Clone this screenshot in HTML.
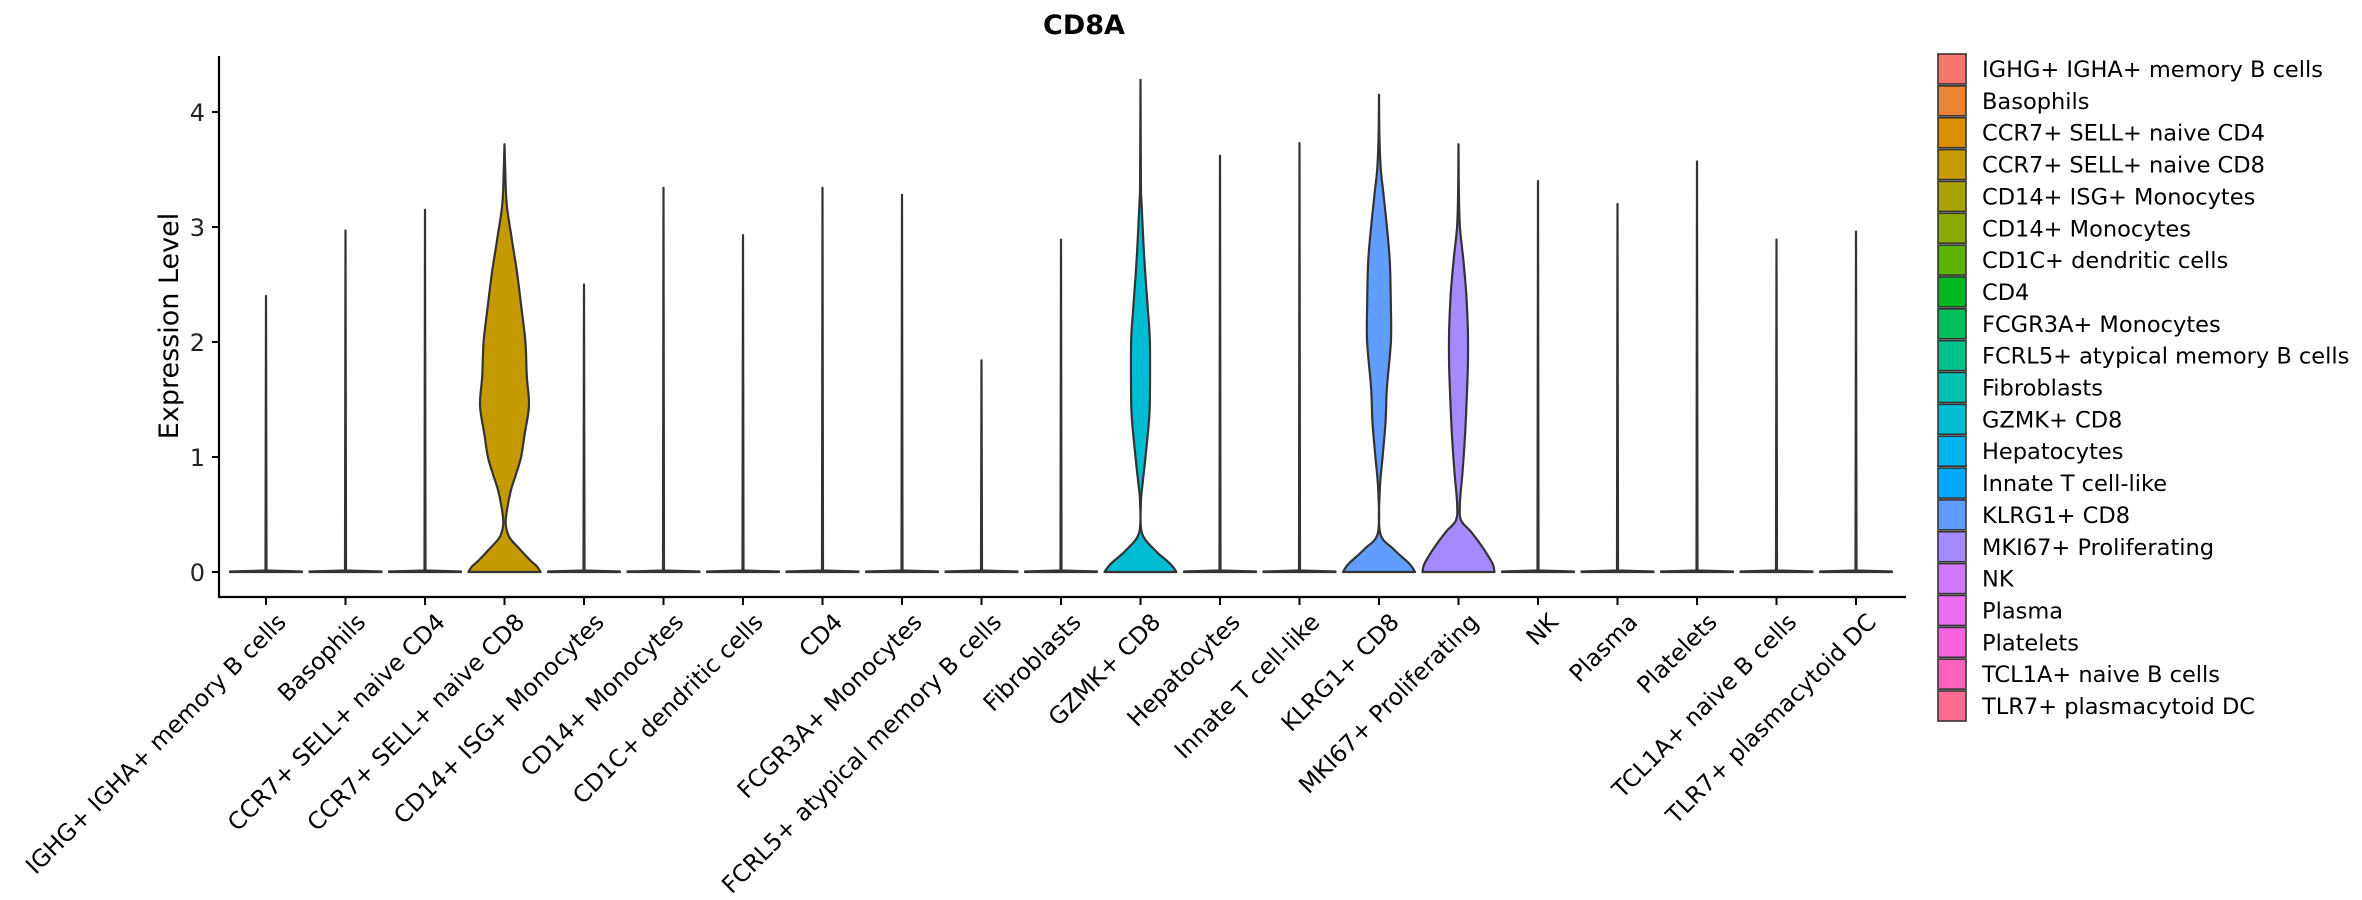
<!DOCTYPE html>
<html><head><meta charset="utf-8"><style>
html,body{margin:0;padding:0;background:#fff;}
svg{display:block;font-family:"DejaVu Sans","Liberation Sans",sans-serif;}
</style></head><body>
<svg id="chart" width="2362" height="900" viewBox="0 0 2362 900" xmlns="http://www.w3.org/2000/svg">
<text x="1084" y="34" font-size="27" font-weight="bold" text-anchor="middle" fill="#000">CD8A</text>
<text transform="translate(178,326) rotate(-90)" font-size="27" text-anchor="middle" fill="#000">Expression Level</text>
<g id="plot"></g>
<g id="legend"></g>
</svg>
<script>
const categories = ["IGHG+ IGHA+ memory B cells","Basophils","CCR7+ SELL+ naive CD4","CCR7+ SELL+ naive CD8","CD14+ ISG+ Monocytes","CD14+ Monocytes","CD1C+ dendritic cells","CD4","FCGR3A+ Monocytes","FCRL5+ atypical memory B cells","Fibroblasts","GZMK+ CD8","Hepatocytes","Innate T cell-like","KLRG1+ CD8","MKI67+ Proliferating","NK","Plasma","Platelets","TCL1A+ naive B cells","TLR7+ plasmacytoid DC"];
const colors = ["#F8766D","#EB8335","#DA8F00","#C49A00","#AAA200","#8AAA00","#5BB300","#00B81F","#00BD5C","#00C08B","#00C0B2","#00BDD4","#00B4EF","#00A8FF","#619CFF","#A58AFF","#D078FF","#EB6FF0","#F863DF","#FF62BC","#FF6C91"];
const maxValues = [2.4,2.97,3.15,3.72,2.5,3.34,2.93,3.34,3.28,1.84,2.89,4.28,3.62,3.73,4.15,3.72,3.4,3.2,3.57,2.89,2.96];
// density profiles: value levels and relative half-widths
const ccr7Levels = [0,0.05,0.1,0.2,0.3,0.4,0.5,0.7,0.85,1.0,1.2,1.45,1.7,2.0,2.3,2.6,2.9,3.2,3.5,3.72];
const ccr7Widths = [1,0.9,0.72,0.42,0.14,0.04,0.05,0.17,0.32,0.46,0.56,0.68,0.62,0.58,0.47,0.35,0.2,0.06,0.02,0];
const gzmkLevels = [0,0.07,0.19,0.34,0.6,0.8,1.0,1.3,1.5,2.0,2.3,2.7,3.2,3.4,4.28];
const gzmkWidths = [1,0.83,0.4,0.04,0.01,0.07,0.14,0.23,0.26,0.26,0.2,0.11,0.03,0.01,0];
const klrgLevels = [0,0.07,0.2,0.34,0.7,1.0,1.3,1.6,2.0,2.3,2.7,3.0,3.3,3.5,3.8,4.15];
const klrgWidths = [1,0.85,0.4,0.03,0.02,0.1,0.18,0.22,0.33,0.33,0.3,0.22,0.12,0.05,0.01,0];
const mkiLevels = [0,0.07,0.2,0.35,0.45,0.6,0.9,1.3,1.8,2.1,2.4,2.7,3.0,3.3,3.72];
const mkiWidths = [1,0.95,0.7,0.35,0.07,0.04,0.12,0.2,0.26,0.26,0.22,0.14,0.04,0.01,0];
const profiles = {3:[ccr7Levels,ccr7Widths],11:[gzmkLevels,gzmkWidths],14:[klrgLevels,klrgWidths],15:[mkiLevels,mkiWidths]};
const yTicks = [0,1,2,3,4];

const NS="http://www.w3.org/2000/svg";
const plot=document.getElementById('plot'), legend=document.getElementById('legend');
const X0=266, DX=79.5, HW=36;
const xScale=i=>X0+i*DX;
const yScale=v=>572-v*115;
function mk(tag,attrs,parent){const e=document.createElementNS(NS,tag);for(const k in attrs)e.setAttribute(k,attrs[k]);parent.appendChild(e);return e;}
function smooth(pts){
  let d='M'+pts[0][0].toFixed(1)+','+pts[0][1].toFixed(1);
  for(let i=0;i<pts.length-1;i++){
    const p0=pts[Math.max(i-1,0)],p1=pts[i],p2=pts[i+1],p3=pts[Math.min(i+2,pts.length-1)];
    const c1=[p1[0]+(p2[0]-p0[0])/6,p1[1]+(p2[1]-p0[1])/6];
    const c2=[p2[0]-(p3[0]-p1[0])/6,p2[1]-(p3[1]-p1[1])/6];
    d+=` C${c1[0].toFixed(1)},${c1[1].toFixed(1)} ${c2[0].toFixed(1)},${c2[1].toFixed(1)} ${p2[0].toFixed(1)},${p2[1].toFixed(1)}`;
  }
  return d;
}

let ax=mk('line',{x1:219,y1:56,x2:219,y2:597,stroke:'#000','stroke-width':2.2},plot);


let bx=mk('line',{x1:218,y1:597,x2:1906,y2:597,stroke:'#000','stroke-width':2.2},plot);


yTicks.forEach(t=>{
  const tk=mk('line',{x1:212,y1:yScale(t),x2:219,y2:yScale(t),stroke:'#000','stroke-width':2},plot);
  
  
  const tl=mk('text',{x:205,y:yScale(t)+9,'font-size':24,'text-anchor':'end',fill:'#222'},plot);
  
  
  tl.textContent=t;
});

categories.forEach((c,i)=>{
  const cx=xScale(i);
  let d;
  if(profiles[i]){
    const [lv,wd]=profiles[i];
    const right=lv.map((v,k)=>[cx+wd[k]*HW,yScale(v)]);
    const left=lv.map((v,k)=>[cx-wd[k]*HW,yScale(v)]).reverse();
    d=smooth(right)+' L'+smooth(left).slice(1)+' Z';
  } else {
    const m=maxValues[i], y0=yScale(0);
    d=`M${cx-HW},${y0} L${cx+HW},${y0} L${cx+HW},${y0-0.5} L${cx+0.5},${y0-1.5} L${cx},${yScale(m)} L${cx-0.5},${y0-1.5} L${cx-HW},${y0-0.5} Z`;
  }
  const p=mk('path',{d:d,fill:colors[i],stroke:'#333','stroke-width':2.2,'stroke-linejoin':'round'},plot);
  
  
  if(profiles[i]){
    const lv=profiles[i][0];
    const ln=mk('line',{x1:cx,y1:yScale(maxValues[i]),x2:cx,y2:yScale(lv[lv.length-1]),stroke:'#333','stroke-width':2.2},plot);
    
    
  }
  const tk=mk('line',{x1:cx,y1:597,x2:cx,y2:605,stroke:'#000','stroke-width':2},plot);
  
  
  const tl=mk('text',{transform:`translate(${cx+9},${611}) rotate(-45)`,'font-size':23.5,'text-anchor':'end',fill:'#000',dy:'0.75em'},plot);
  
  
  tl.textContent=c;

  const ly=54+i*31.85;
  const key=mk('rect',{x:1938,y:ly,width:28,height:30,fill:colors[i],stroke:'#333','stroke-width':1.6},legend);
  
  
  const lt=mk('text',{x:1982,y:ly+23,'font-size':22.5,fill:'#000'},legend);
  
  
  lt.setAttribute('xml:space','preserve');
  lt.textContent=(i===0?' ':'')+c;
});
</script>
</body></html>
